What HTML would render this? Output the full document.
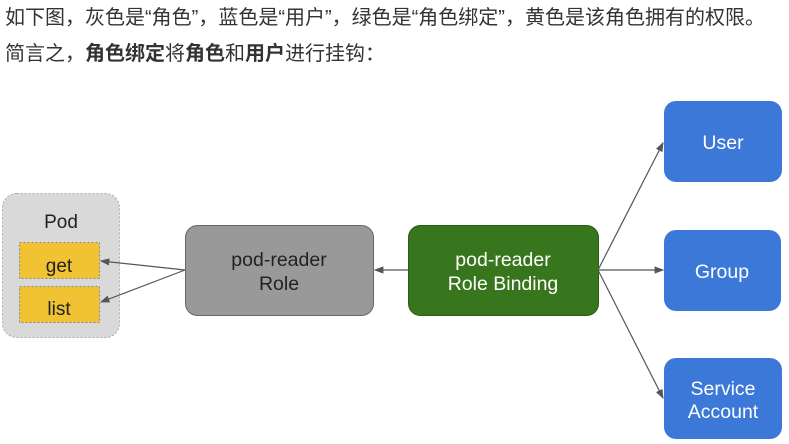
<!DOCTYPE html>
<html><head><meta charset="utf-8"><style>
body{margin:0;width:789px;height:444px;background:#fff;overflow:hidden;position:relative;font-family:"Liberation Sans","Noto Sans CJK SC",sans-serif;}
.t{position:absolute;left:5px;font-size:20px;line-height:24px;color:#333;white-space:nowrap;}
</style></head><body>
<div class="t" style="top:6px;">如下图，灰色是“角色”，蓝色是“用户”，绿色是“角色绑定”，黄色是该角色拥有的权限。</div>
<div class="t" style="top:42px;">简言之，<b>角色绑定</b>将<b>角色</b>和<b>用户</b>进行挂钩：</div>
<svg width="789" height="444" style="position:absolute;left:0;top:0" font-family="Liberation Sans, sans-serif">
<defs><marker id="a" markerWidth="8" markerHeight="6" refX="7" refY="3" orient="auto"><path d="M0,0 L8,3 L0,6z" fill="#555"/></marker></defs>
<rect x="2.5" y="193.5" width="117" height="144" rx="14" fill="#d9d9d9" stroke="#aaa" stroke-dasharray="2,2"/>
<text x="61" y="228" font-size="19" text-anchor="middle" fill="#222">Pod</text>
<rect x="19.5" y="242.5" width="80" height="36" fill="#f1c232" stroke="#888" stroke-dasharray="2,2"/>
<text x="59" y="272" font-size="19" text-anchor="middle" fill="#222">get</text>
<rect x="19.5" y="286.5" width="80" height="36" fill="#f1c232" stroke="#888" stroke-dasharray="2,2"/>
<text x="59" y="315" font-size="19" text-anchor="middle" fill="#222">list</text>
<rect x="185.5" y="225.5" width="188" height="90" rx="12" fill="#999" stroke="#666"/>
<text x="279" y="266" font-size="19.5" text-anchor="middle" fill="#222">pod-reader</text>
<text x="279" y="290" font-size="19.5" text-anchor="middle" fill="#222">Role</text>
<rect x="408.5" y="225.5" width="190" height="90" rx="12" fill="#38761d" stroke="#2a5a15"/>
<text x="503" y="266" font-size="19.5" text-anchor="middle" fill="#fff">pod-reader</text>
<text x="503" y="290" font-size="19.5" text-anchor="middle" fill="#fff">Role Binding</text>
<rect x="664" y="101" width="118" height="81" rx="12" fill="#3c78d8"/>
<text x="723" y="149" font-size="19.5" text-anchor="middle" fill="#fff">User</text>
<rect x="664" y="230" width="117" height="81" rx="12" fill="#3c78d8"/>
<text x="722" y="278" font-size="19.5" text-anchor="middle" fill="#fff">Group</text>
<rect x="664" y="358" width="118" height="81" rx="12" fill="#3c78d8"/>
<text x="723" y="395" font-size="19.5" text-anchor="middle" fill="#fff">Service</text>
<text x="723" y="418" font-size="19.5" text-anchor="middle" fill="#fff">Account</text>
<g stroke="#555" stroke-width="1.2" fill="none" marker-end="url(#a)">
<line x1="185" y1="270" x2="101" y2="261"/>
<line x1="185" y1="270" x2="101" y2="302"/>
<line x1="408" y1="270" x2="375" y2="270"/>
<line x1="598" y1="270" x2="663" y2="143"/>
<line x1="598" y1="270" x2="663" y2="270"/>
<line x1="598" y1="270" x2="663" y2="398"/>
</g>
</svg>
</body></html>
